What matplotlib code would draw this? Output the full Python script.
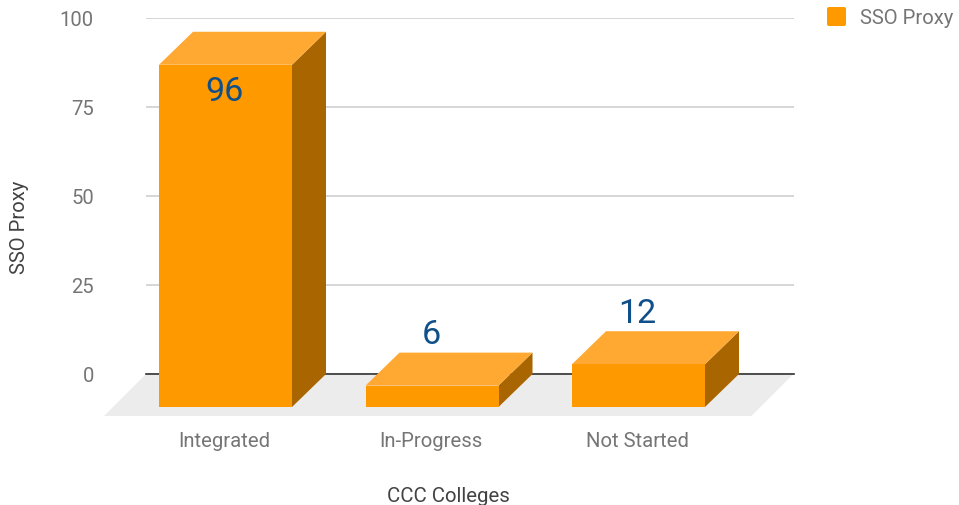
import matplotlib
matplotlib.use('Agg')
import matplotlib.pyplot as plt
from matplotlib.patches import FancyBboxPatch, Polygon, Rectangle

categories = ['Integrated', 'In-Progress', 'Not Started']
values = [96, 6, 12]
y_ticks = [0, 25, 50, 75, 100]

W, H = 959, 506
FRONT = '#ff9900'
TOP = '#ffa933'
SIDE = '#a86500'
LABEL = '#0f4f8a'
GREY = '#757575'
DARK = '#424242'

plt.rcParams['font.family'] = 'Roboto'

fig = plt.figure(figsize=(W / 100, H / 100), dpi=100)
ax = fig.add_axes([146 / W, 1 - 375 / H, 647.5 / W, 356.5 / H])
ax.set_xlim((146 - 225.5) / 206.5, (793.5 - 225.5) / 206.5)
ax.set_ylim(0, 100)

# depth of the fake 3d box and bar width, in data units
dx = 34 / 206.5
dy = 33 / 3.565
bw = 133 / 206.5
floor = 42 / 206.5
floor_y = 42 / 3.565

for s in ax.spines.values():
    s.set_visible(False)
ax.set_xticks([])
ax.set_yticks(y_ticks)
ax.tick_params(axis='y', length=0, pad=37.6, labelsize=14.6, labelcolor=GREY)
ax.grid(axis='y', color='#cccccc', lw=1.1)
ax.set_axisbelow(True)

x0, x1 = ax.get_xlim()
ax.add_patch(Polygon([(x0, 0), (x1, 0), (x1 - floor, -floor_y), (x0 - floor, -floor_y)],
                     fc='#ececec', ec='none', clip_on=False, zorder=1))
ax.plot([x0, x1], [0, 0], color='#333333', lw=1.2, clip_on=False, zorder=1.5)

for i, (name, v) in enumerate(zip(categories, values)):
    l = i - bw / 2
    r = i + bw / 2
    ax.add_patch(Polygon([(r, -dy), (r + dx, 0), (r + dx, v), (r, v - dy)],
                         fc=SIDE, ec='none', clip_on=False, zorder=3))
    ax.add_patch(Polygon([(l, v - dy), (r, v - dy), (r + dx, v), (l + dx, v)],
                         fc=TOP, ec='none', clip_on=False, zorder=3))
    ax.add_patch(Rectangle((l, -dy), bw, v, fc=FRONT, ec='none', clip_on=False, zorder=3))
    ax.text(i - 0.005, -18.7, name, ha='center', va='center', fontsize=14.6, color=GREY, zorder=4)

# value labels sit above the front face for short bars, inside for the tall one
ax.text(-0.004, values[0] - 16.6, str(values[0]), ha='center', va='center', fontsize=24.5, color=LABEL, zorder=5)
ax.text(0.998, values[1] + 5.2, str(values[1]), ha='center', va='center', fontsize=24.5, color=LABEL, zorder=5)
ax.text(1.996, values[2] + 5.2, str(values[2]), ha='center', va='center', fontsize=24.5, color=LABEL, zorder=5)

fig.text(448 / W, 1 - 497 / H, 'CCC Colleges', ha='center', va='center', fontsize=14.7, color=DARK)
fig.text(20 / W, 1 - 227 / H, 'SSO Proxy', ha='center', va='center', rotation=90, fontsize=14.6, color=DARK)

# legend swatch, in figure pixels from the bottom
fig.patches.append(FancyBboxPatch((829, H - 25), 15, 15, boxstyle='round,pad=2,rounding_size=2',
                                  transform=None, fc=FRONT, ec='none'))
fig.text(860 / W, 1 - 19 / H, 'SSO Proxy', ha='left', va='center', fontsize=14.6, color=GREY)

fig.savefig('out.png', dpi=100)
